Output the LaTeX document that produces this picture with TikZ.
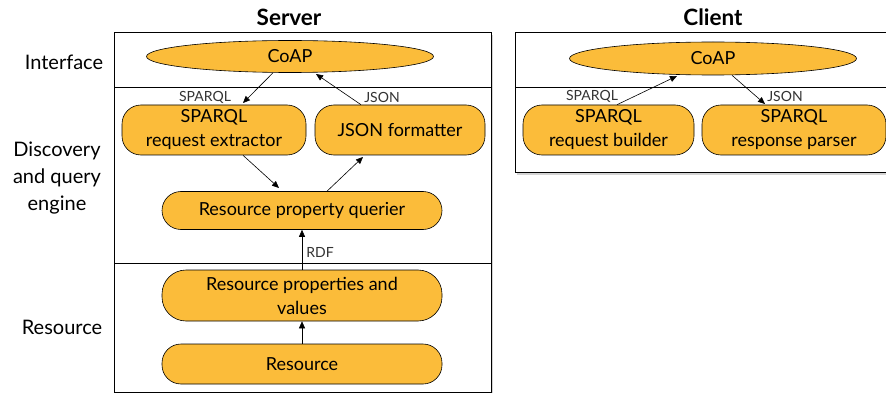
\documentclass[tikz,border=0pt]{standalone}
\usepackage{fontspec}
\setmainfont{Lato}
\usetikzlibrary{shapes.geometric,arrows.meta,shadows}
\begin{document}
\begin{tikzpicture}[x=1pt,y=-1pt,
  oval/.style={ellipse,draw=black,line width=0.6pt,fill=boxfill,inner sep=0pt,font=\fontsize{18}{20}\selectfont},
  pill/.style={rectangle,rounded corners=19pt,draw=black,line width=0.6pt,fill=boxfill,inner sep=0pt,align=center,font=\fontsize{18}{24}\selectfont},
  arr/.style={-{Triangle[length=7pt,width=6pt]},line width=0.6pt},
  lbl/.style={font=\fontsize{14}{16}\selectfont,text=black!80,inner sep=0pt},
  side/.style={font=\fontsize{20}{27}\selectfont,align=center,inner sep=0pt},
  ttl/.style={font=\bfseries\fontsize{22.5}{24}\selectfont,inner sep=0pt},
  frame/.style={draw=black,line width=0.7pt,fill=white,drop shadow={shadow xshift=2pt,shadow yshift=-3pt,opacity=0.35}}]
\definecolor{boxfill}{RGB}{251,188,58}
\useasboundingbox (0,0) rectangle (886,393);
% frames
\path[frame] (114.5,32) rectangle (491,392);
\draw[line width=0.7pt] (114.5,87) -- (491,87);
\draw[line width=0.7pt] (114.5,263) -- (491,263);
\path[frame] (515,32) rectangle (900,172);
\draw[line width=0.7pt] (515,87) -- (900,87);
% titles
\node[ttl] (tS) at (289,17) {Server};
\node[ttl] (tC) at (713,17) {Client};
% side labels
\node[side] (sI) at (64,62) {Interface};
\node[side] (sD) at (57,178) {Discovery\\and query\\engine};
\node[side] (sR) at (62,327) {Resource};
% server nodes
\node[oval,minimum width=287,minimum height=32] (scoap) at (290,56.5) {CoAP};
\node[pill,minimum width=184,minimum height=50] (sext) at (214,130) {SPARQL\\request extractor};
\node[pill,minimum width=170,minimum height=50] (sjson) at (400,130) {JSON formatter};
\node[pill,minimum width=280,minimum height=38] (sq) at (302,210.5) {Resource property querier};
\node[pill,minimum width=280,minimum height=51,rounded corners=24pt] (sprop) at (302,295.5) {Resource properties and\\values};
\node[pill,minimum width=280,minimum height=40] (sres) at (302,364) {Resource};
% client nodes
\node[oval,minimum width=287,minimum height=33] (ccoap) at (713,58.5) {CoAP};
\node[pill,minimum width=171,minimum height=50] (cbld) at (608.5,130) {SPARQL\\request builder};
\node[pill,minimum width=184,minimum height=50] (cprs) at (794,130) {SPARQL\\response parser};
% server arrows
\draw[arr] (scoap.south -| 273,0) -- (243,103);
\draw[arr] (sjson.north -| 361,0) -- (316,74);
\draw[arr] (sext.south -| 243,0) -- (279,188);
\draw[arr] (sq.north -| 327,0) -- (363,157);
\draw[arr] (sprop.north) -- (sq.south);
\draw[arr] (sres.north) -- (sprop.south);
\node[lbl] (l1) at (205,97) {SPARQL};
\node[lbl] (l2) at (382,97) {JSON};
\node[lbl] (l3) at (320,252) {RDF};
% client arrows
\draw[arr] (cbld.north -| 617,0) -- (677,76);
\draw[arr] (ccoap.south -| 732,0) -- (765,104);
\node[lbl] (l4) at (592,96) {SPARQL};
\node[lbl] (l5) at (785,96) {JSON};
\end{tikzpicture}
\end{document}
